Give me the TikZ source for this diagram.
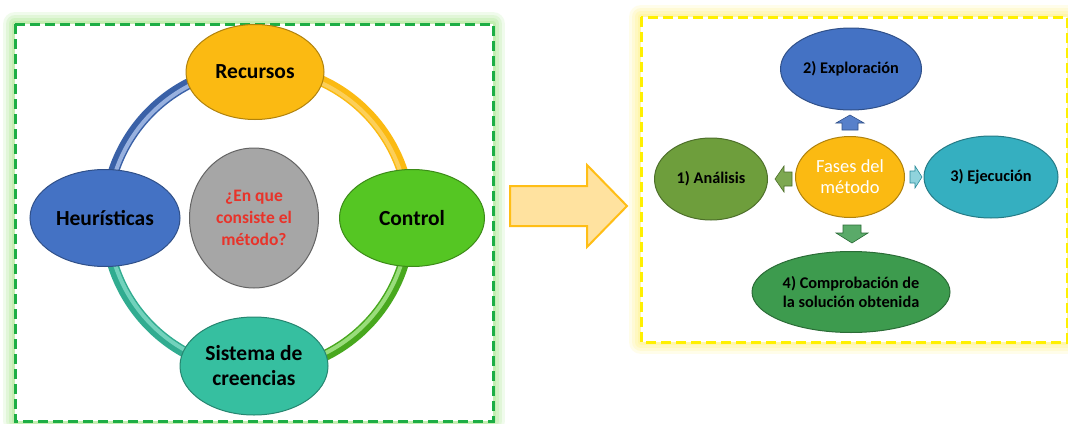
\documentclass[tikz,border=0pt]{standalone}
\usepackage{fontspec}
\setmainfont{Carlito}
\usetikzlibrary{shapes.geometric}
\definecolor{cOrange}{HTML}{FBBA12}
\definecolor{cBlue}{HTML}{4472C4}
\definecolor{cGreen}{HTML}{55C623}
\definecolor{cTeal}{HTML}{36BFA0}
\definecolor{cGrey}{HTML}{A6A6A6}
\definecolor{cRed}{HTML}{E8332A}
\definecolor{cOlive}{HTML}{6E9E3C}
\definecolor{cSky}{HTML}{35AFC0}
\definecolor{cDGreen}{HTML}{3D9B4E}
\definecolor{cDash}{HTML}{1DAE45}
\definecolor{cYel}{HTML}{FFF000}
\definecolor{cArrFill}{HTML}{FFE29F}
\definecolor{cArrLine}{HTML}{FFBE16}
\definecolor{cGlowG}{HTML}{B8EBA0}
\definecolor{cGlowY}{HTML}{FFF59A}
\tikzset{
  ell/.style={ellipse, inner sep=0pt, line width=1pt, align=center, font=\bfseries\fontsize{21.5}{25}\selectfont},
  rell/.style={ellipse, inner sep=0pt, line width=1pt, align=center, font=\bfseries\fontsize{16.3}{19}\selectfont},
  ringseg/.style={line width=11pt},
  ringhi/.style={line width=4pt},
  blk/.style={line width=0.6pt},
  dashframe/.style={line width=3pt, dash pattern=on 10pt off 5pt},
}
\begin{document}
\begin{tikzpicture}[x=1pt,y=-1pt]
\useasboundingbox (0,0) rectangle (1068,423);
\fill[white] (0,0) rectangle (1068,423);
% glow of frames
\foreach \w/\o in {24/0.2,18/0.25,12/0.35,6/0.5}{
  \draw[cGlowG, line width=\w pt, opacity=\o, line join=round] (15,24) rectangle (493,421);
  \draw[cGlowY, line width=\w pt, opacity=\o, line join=round] (641,17) rectangle (1067,342);
}
\fill[white] (15,24) rectangle (493,421);
\fill[white] (641,17) rectangle (1067,342);
\draw[cDash, dashframe] (15,24) rectangle (493,421);
\draw[cYel, dashframe] (641,17) rectangle (1067,342);

% ring
\coordinate (rc) at (258,219);
\draw[ringseg, cBlue!85!black] (rc) ++(90:152pt) arc[start angle=90, end angle=180, radius=152pt];
\draw[ringseg, cOrange] (rc) ++(90:152pt) arc[start angle=90, end angle=0, radius=152pt];
\draw[ringseg, cGreen!85!black] (rc) ++(0:152pt) arc[start angle=0, end angle=-90, radius=152pt];
\draw[ringseg, cTeal!90!black] (rc) ++(-90:152pt) arc[start angle=-90, end angle=-180, radius=152pt];
\draw[ringhi, cBlue!55!white] (rc) ++(90:150pt) arc[start angle=90, end angle=180, radius=150pt];
\draw[ringhi, cOrange!70!white] (rc) ++(90:150pt) arc[start angle=90, end angle=0, radius=150pt];
\draw[ringhi, cGreen!60!white] (rc) ++(0:150pt) arc[start angle=0, end angle=-90, radius=150pt];
\draw[ringhi, cTeal!70!white] (rc) ++(-90:150pt) arc[start angle=-90, end angle=-180, radius=150pt];

% left nodes
\node[ell, fill=cOrange, draw=cOrange!70!black, minimum width=138pt, minimum height=95pt] (rec) at (255,72) {Recursos};
\node[ell, fill=cBlue, draw=cBlue!70!black, minimum width=150pt, minimum height=97pt] (heu) at (105,218) {Heurísticas};
\node[ell, fill=cGreen, draw=cGreen!70!black, minimum width=145pt, minimum height=97pt] (con) at (412,218) {Control};
\node[ell, fill=cTeal, draw=cTeal!70!black, minimum width=148pt, minimum height=98pt] (sis) at (254,366) {Sistema de\\creencias};
\node[ell, fill=cGrey, draw=cGrey!60!black, minimum width=129pt, minimum height=140pt, text=cRed, font=\bfseries\fontsize{17.5}{22}\selectfont] (q) at (254,218) {¿En que\\consiste el\\método?};

% big arrow
\filldraw[fill=cArrFill, draw=cArrLine, line width=2pt, line join=miter]
  (510,186) -- (587,186) -- (587,165) -- (627,206) -- (587,247) -- (587,226) -- (510,226) -- cycle;

% right nodes
\node[rell, fill=cBlue, draw=cBlue!70!black, minimum width=141pt, minimum height=82pt] (exp) at (851,69) {2) Exploración};
\node[rell, fill=cOlive, draw=cOlive!70!black, minimum width=113pt, minimum height=82pt] (ana) at (711,179) {1) Análisis};
\node[ellipse, inner sep=0pt, line width=1pt, align=center, fill=cOrange, draw=cOrange!70!black, minimum width=109pt, minimum height=81pt, text=white, font=\fontsize{18.5}{21}\selectfont] (fas) at (850,177) {Fases del\\método};
\node[rell, fill=cSky, draw=cSky!70!black, minimum width=134pt, minimum height=82pt] (eje) at (991,177) {3) Ejecución};
\node[rell, fill=cDGreen, draw=cDGreen!70!black, minimum width=198pt, minimum height=81pt] (com) at (851,292) {4) Comprobación de\\la solución obtenida};

% small block arrows
\filldraw[blk, fill=cBlue!90!white, draw=cBlue!70!black]
  (850,115) -- (864,123) -- (858,123) -- (858,130) -- (842,130) -- (842,123) -- (836,123) -- cycle;
\filldraw[blk, fill=cOlive!90!white, draw=cOlive!70!black]
  (775,179) -- (784,166) -- (784,172) -- (792,172) -- (792,186) -- (784,186) -- (784,192) -- cycle;
\filldraw[blk, fill=cSky!55!white, draw=cSky!80!black]
  (922,177) -- (915,166) -- (915,171) -- (910,171) -- (910,183) -- (915,183) -- (915,188) -- cycle;
\filldraw[blk, fill=cDGreen!85!white, draw=cDGreen!70!black]
  (852,243) -- (836,233) -- (843,233) -- (843,225) -- (861,225) -- (861,233) -- (868,233) -- cycle;
\end{tikzpicture}
\end{document}
